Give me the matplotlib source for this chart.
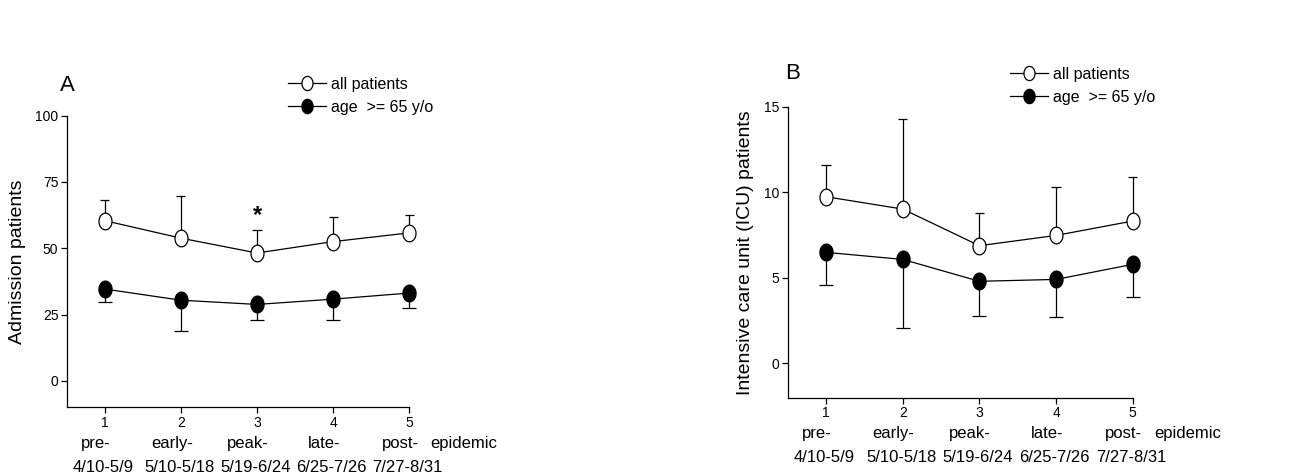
import numpy as np
import matplotlib
matplotlib.use("Agg")
import matplotlib.pyplot as plt
from matplotlib.path import Path

plt.rcParams["font.family"] = ["Liberation Sans", "DejaVu Sans"]

# ---------------------------------------------------------------------------
# Data
# ---------------------------------------------------------------------------
periods = [1, 2, 3, 4, 5]
phase_names = ["pre-", "early-", "peak-", "late-", "post-"]
date_ranges = ["4/10-5/9", "5/10-5/18", "5/19-6/24", "6/25-7/26", "7/27-8/31"]

# Panel A: admission patients (mean, one-sided SD)
adm_all_mean = [60.4, 53.8, 48.2, 52.5, 55.8]
adm_all_sd = [7.9, 16.0, 8.6, 9.2, 6.9]
adm_old_mean = [34.6, 30.4, 28.8, 30.8, 33.1]
adm_old_sd = [4.9, 11.8, 5.7, 7.7, 5.7]

# Panel B: ICU patients
icu_all_mean = [9.74, 9.02, 6.88, 7.48, 8.32]
icu_all_sd = [1.86, 5.28, 1.91, 2.85, 2.58]
icu_old_mean = [6.49, 6.08, 4.80, 4.91, 5.79]
icu_old_sd = [1.91, 3.98, 2.02, 2.22, 1.89]

# slightly tall ellipse marker, as in the original scan
_t = np.linspace(0, 2 * np.pi, 60)
ELLIPSE = Path(np.column_stack([0.78 * np.cos(_t), np.sin(_t)]), closed=True)


def draw_panel(ax, all_mean, all_sd, old_mean, old_sd, ylim, yticks,
               ylabel, letter, letter_xy, leg_xy):
    x = np.array(periods)
    am, asd = np.array(all_mean), np.array(all_sd)
    om, osd = np.array(old_mean), np.array(old_sd)

    # one-sided error bars: up for all patients, down for elderly
    ax.vlines(x, am, am + asd, color="black", lw=0.9, zorder=1, clip_on=False)
    ax.hlines(am + asd, x - 0.06, x + 0.06, color="black", lw=0.9, zorder=1,
              clip_on=False)
    ax.vlines(x, om - osd, om, color="black", lw=0.9, zorder=1, clip_on=False)
    ax.hlines(om - osd, x - 0.09, x + 0.09, color="black", lw=0.9, zorder=1,
              clip_on=False)

    ax.plot(x, am, "-", color="black", lw=0.9, marker=ELLIPSE,
            markersize=12, markerfacecolor="white", markeredgecolor="black",
            markeredgewidth=0.9, zorder=3, clip_on=False, label="all patients")
    ax.plot(x, om, "-", color="black", lw=0.9, marker=ELLIPSE,
            markersize=12, markerfacecolor="black", markeredgecolor="black",
            zorder=3, clip_on=False, label="age  >= 65 y/o")

    ax.set_xlim(0.5, 5)
    ax.set_ylim(*ylim)
    ax.set_xticks(periods)
    ax.set_yticks(yticks)
    ax.spines["top"].set_visible(False)
    ax.spines["right"].set_visible(False)
    ax.spines["left"].set_bounds(ylim[0], yticks[-1])
    for s in ("left", "bottom"):
        ax.spines[s].set_linewidth(0.9)
    ax.tick_params(direction="out", length=4, width=0.9, labelsize=10, pad=2)
    ax.set_ylabel(ylabel, fontsize=14, labelpad=7)

    # category labels under the tick numbers
    trans = ax.get_xaxis_transform()
    for xi, name, dates in zip(periods, phase_names, date_ranges):
        ax.text(xi - 0.12, -0.124, name, transform=trans, ha="center",
                va="center", fontsize=12)
        ax.text(xi - 0.02, -0.205, dates, transform=trans, ha="center",
                va="center", fontsize=12)
    ax.text(5.28, -0.124, "epidemic", transform=trans, ha="left",
            va="center", fontsize=12)

    ax.figure.text(letter_xy[0], letter_xy[1], letter, fontsize=16,
                   ha="left", va="center")
    ax.legend(loc="upper left", bbox_to_anchor=leg_xy,
              bbox_transform=ax.figure.transFigure, frameon=False,
              fontsize=11.5, handlelength=2.4, handletextpad=0.3,
              labelspacing=0.5, borderpad=0, markerscale=0.85)


fig = plt.figure(figsize=(12.96, 4.75), dpi=100)
axA = fig.add_axes([0.0515, 0.1425, 0.2643, 0.614])
axB = fig.add_axes([0.6078, 0.1627, 0.2662, 0.6127])

draw_panel(axA, adm_all_mean, adm_all_sd, adm_old_mean, adm_old_sd,
           (-10, 100), [0, 25, 50, 75, 100], "Admission patients",
           "A", (0.046, 0.82), (0.216, 0.855))
axA.text(3, 62.5, "*", ha="center", va="center", fontsize=17,
         fontweight="bold")

draw_panel(axB, icu_all_mean, icu_all_sd, icu_old_mean, icu_old_sd,
           (-2, 15), [0, 5, 10, 15], "Intensive care unit (ICU) patients",
           "B", (0.606, 0.845), (0.773, 0.876))

fig.savefig("out.png", dpi=100)
